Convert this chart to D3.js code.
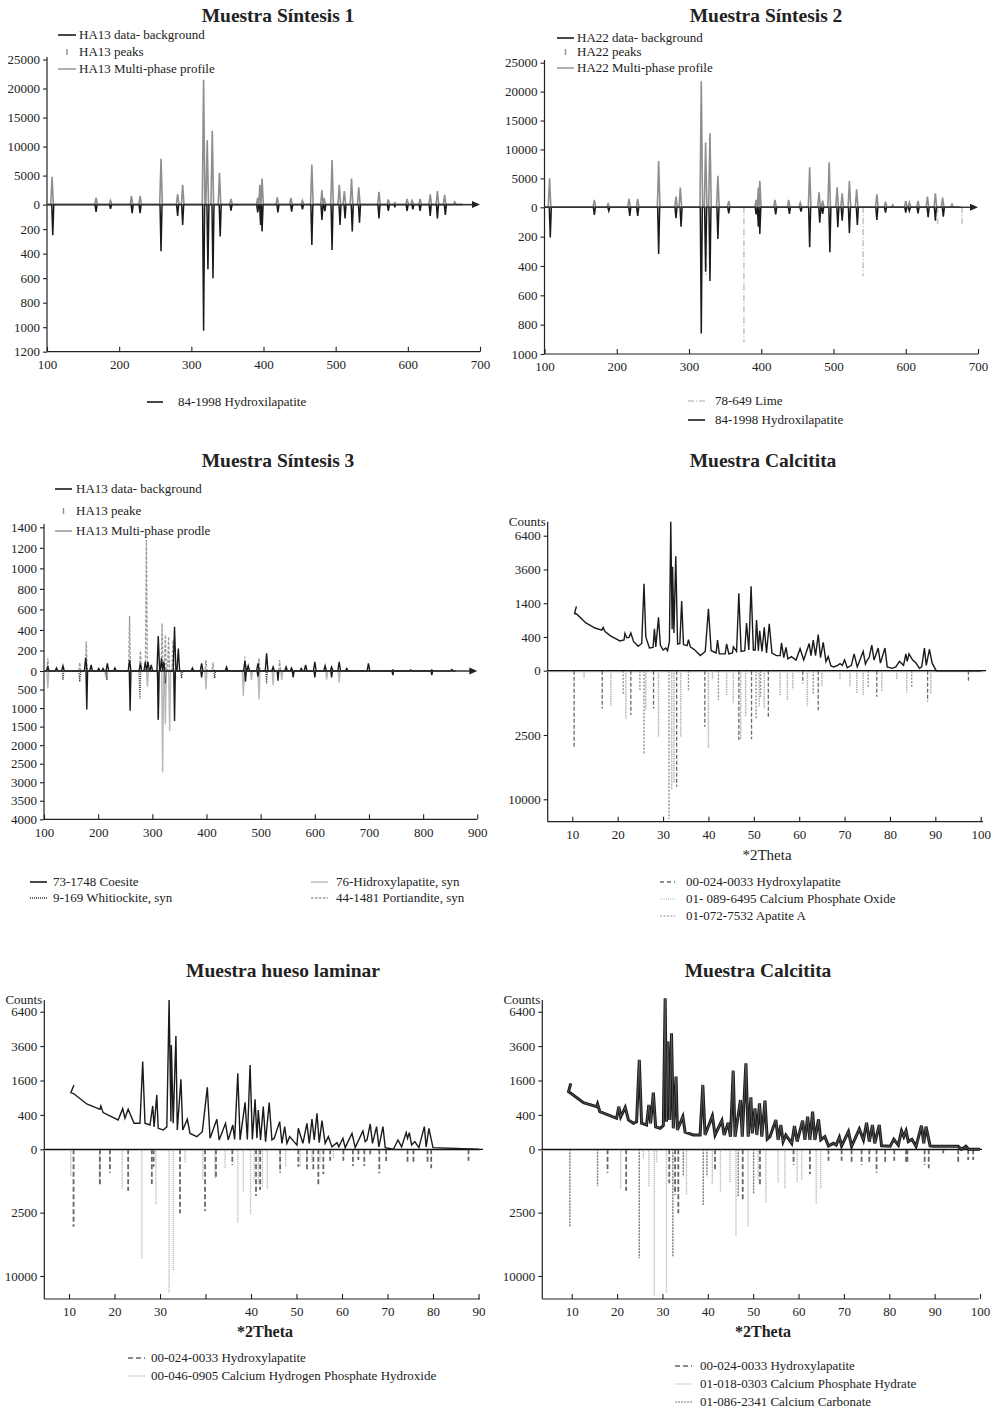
<!DOCTYPE html>
<html>
<head>
<meta charset="utf-8">
<script src="https://cdnjs.cloudflare.com/ajax/libs/d3/7.8.5/d3.min.js"></script>
<style>
body{margin:0;background:#fff}
svg{display:block;font-family:"Liberation Serif","Times New Roman",serif}
</style>
</head>
<body>
<div id="chart"></div>
<script>
//////////////////////////////////////////////////////
// DATA  (position, intensity)
//////////////////////////////////////////////////////

// Muestra Síntesis 1
const s1Profile = [[107,4800],[168,1200],[188,700],[217,1500],[229,1500],[258,7900],[281,1800],[288,3400],[317,21500],[322,11100],[329,12700],[339,5500],[355,970],[392,1200],[395,3400],[398,4500],[419,1260],[438,1150],[454,690],[467,6900],[481,2500],[484,1100],[495,7700],[505,3400],[512,2350],[522,4500],[532,3000],[560,2200],[573,900],[582,340],[599,970],[606,690],[617,970],[631,1780],[641,2350],[651,1660],[665,460]];
const s1Hydrox = [[108,250],[168,60],[188,35],[218,70],[229,70],[258,380],[281,92],[288,166],[317,1030],[323,528],[330,601],[340,261],[355,49],[392,63],[396,166],[398,220],[420,63],[439,57],[454,38],[467,329],[481,125],[485,54],[495,370],[506,166],[513,112],[523,220],[533,147],[560,112],[573,52],[582,16],[599,52],[607,38],[617,52],[631,92],[641,112],[652,84]];
const s1UpTicks = [0,5000,10000,15000,20000,25000];
const s1DownTicks = [200,400,600,800,1000,1200];

// Muestra Síntesis 2
const s2Profile = [[107,5000],[169,1270],[188,580],[217,1440],[229,1440],[258,8000],[282,1840],[288,3400],[317,21800],[323,11200],[329,12800],[340,5470],[355,1100],[393,1270],[396,3400],[398,4600],[419,1270],[438,1270],[454,800],[467,6900],[480,2600],[485,1150],[494,7780],[505,3450],[512,2420],[522,4550],[532,3100],[560,2250],[572,980],[582,400],[600,1100],[605,860],[617,1100],[630,1840],[641,2420],[651,1670],[664,520]];
const s2Hydrox = [[108,205],[169,52],[189,25],[218,59],[229,59],[258,318],[282,75],[289,132],[317,860],[323,440],[329,502],[340,216],[355,41],[393,48],[396,132],[398,182],[420,48],[439,45],[455,30],[467,273],[481,105],[485,45],[495,307],[506,136],[512,91],[522,177],[533,120],[560,86],[572,36],[600,36],[605,25],[617,41],[631,68],[641,91],[652,64]];
const s2Lime = [[324,460],[376,920],[541,470],[644,130],[678,130]];
const s2UpTicks = [0,5000,10000,15000,20000,25000];
const s2DownTicks = [200,400,600,800,1000];

// Muestra Síntesis 3
const s3Profile = [[107,40],[123,30],[135,50],[177,130],[187,60],[201,25],[209,25],[217,75],[231,30],[258,107],[278,75],[287,90],[292,90],[298,60],[311,340],[317,123],[321,90],[341,430],[348,220],[374,30],[391,75],[437,40],[471,97],[477,50],[495,75],[511,172],[523,40],[547,40],[557,30],[575,25],[583,60],[600,90],[619,50],[631,40],[645,90],[659,25],[699,75],[744,10],[777,10],[816,10],[853,15]];
const s3Peaks = [[107,123],[166,81],[178,286],[258,536],[278,195],[289,1276],[318,464],[324,351],[330,335],[338,302],[399,107],[412,81],[471,140],[497,123],[535,107]];
const s3Coesite = [[179,1036],[259,1072],[311,1306],[341,1351],[391,170],[472,288],[495,153],[532,261],[560,171],[600,171],[631,171],[744,108],[816,108]];
const s3Hydrox = [[107,468],[214,153],[291,423],[319,2738],[324,1441],[332,1622],[399,495],[468,675],[483,243],[497,765],[523,378],[539,243],[560,108],[622,225],[645,315]];
const s3Whitlockite = [[135,243],[166,288],[216,243],[277,739],[311,1324],[324,333],[354,198],[415,198],[511,333]];
const s3UpTicks = [0,200,400,600,800,1000,1200,1400];
const s3DownTicks = [500,1000,1500,2000,2500,3000,3500,4000];

// Muestra Calcitita (arriba)
const c4Profile = [[10.9,1450],[10.5,1150],[11,1120],[13,800],[15,640],[16.5,580],[16.8,660],[17.2,540],[18.5,420],[20.5,310],[21.4,330],[21.6,490],[22,380],[22.5,390],[22.9,500],[23.5,300],[24.5,210],[25.3,260],[25.8,2650],[26.2,400],[27,180],[27.8,190],[28.1,620],[28.4,200],[29,1000],[29.4,230],[30,150],[30.6,180],[31,140],[31.4,300],[31.7,7800],[32,600],[32.1,3800],[32.4,500],[32.8,4600],[33.2,250],[33.7,260],[34.1,1700],[34.5,240],[35.3,220],[35.6,340],[36,200],[37,150],[38.2,80],[39.3,130],[40,1350],[40.6,140],[41.7,110],[42,330],[42.4,100],[43.7,100],[44,250],[44.5,100],[45.3,110],[45.5,200],[46.2,130],[46.7,2100],[47.2,130],[48,140],[48.4,800],[48.9,150],[49.4,2500],[49.9,150],[50.3,150],[50.6,900],[51,140],[51.3,560],[51.8,130],[52.3,660],[52.8,110],[53.4,770],[54,110],[55,80],[55.8,80],[56.1,270],[56.6,60],[57.1,190],[57.5,50],[58.3,70],[59.3,40],[60.2,170],[61,40],[62.2,260],[62.6,80],[63.1,330],[63.6,80],[64.2,460],[64.7,60],[65.3,280],[65.9,30],[66.4,70],[67,8],[67.6,5],[68.5,10],[69,18],[69.5,10],[70,40],[70.6,3],[71.5,10],[72.1,100],[72.8,5],[74.1,130],[74.6,15],[75,40],[75.4,60],[76,230],[76.5,40],[77.4,180],[77.9,20],[78.9,180],[79.4,5],[80.5,2],[81.3,5],[82.1,30],[83,10],[83.5,100],[83.8,30],[84.2,100],[85,40],[85.7,22],[86.5,2],[87,5],[87.6,180],[88,10],[88.7,160],[89.3,20],[90.2,0],[100,0]];
const c4Hydrox = [[10.4,3550],[16.6,860],[22.9,1190],[27.9,860],[33,8100],[39.2,1900],[46.7,2900],[49.5,2850],[53.2,1280],[60.8,100],[64.2,940],[77.1,410],[88.3,580],[97.3,75]];
const c4CaPOxide = [[12.6,35],[18.5,750],[21.8,1430],[26.2,940],[29,2630],[31.9,8600],[32.4,7660],[33.9,2630],[40,3640],[40.9,55],[44,360],[45.5,650],[47.1,2820],[48.2,1280],[51.2,780],[52.3,860],[55.8,360],[57.4,520],[58.6,210],[61.8,750],[65,155],[69,45],[71.2,155],[72.7,310],[74.1,360],[78.2,266],[81.5,45],[83.7,290],[89,330]];
const c4ApatiteA = [[21.2,360],[24.9,226],[25.8,4300],[31.3,13300],[35.6,266],[42.2,520],[50.5,1430],[51.5,410],[63.1,360],[75.2,155],[84.8,188]];
const c4UpTicks = [0,400,1600,3600,6400];
const c4UpLabels = ["0","400","1400","3600","6400"];
const c4DownTicks = [2500,10000];
const c4XTicks = [10,20,30,40,50,60,70,80,90,100];
const c4XLabels = ["10","20","30","40","50","60","70","80","90","100"];

// Muestra hueso laminar
const c5Profile = [[11.1,1400],[10.4,1085],[11,1050],[13.9,695],[16.8,540],[17,635],[17.5,455],[20.8,291],[21.8,559],[22.3,325],[23,541],[24.3,229],[25.6,229],[26.2,2600],[26.7,229],[27.8,200],[28.4,635],[28.7,170],[29.3,1000],[29.6,149],[30.7,126],[31.5,170],[32,7540],[32.4,260],[32.5,3680],[32.9,230],[33.5,4340],[33.8,126],[34.6,1660],[35,126],[36,305],[36.6,85],[38.1,54],[39.3,105],[40.4,1300],[41,41],[42.5,305],[43,30],[44.4,228],[45,30],[46,200],[46.4,33],[47.1,1950],[47.6,30],[48.7,746],[49.2,33],[49.8,2400],[50.3,33],[50.9,845],[51.3,41],[51.6,523],[52.1,30],[52.7,615],[53.2,20],[54,736],[54.6,30],[55.1,41],[56.3,259],[56.8,12],[57.4,174],[57.9,12],[58.5,54],[60.1,6],[60.4,149],[61.4,12],[62.3,228],[62.8,12],[63.4,311],[63.9,30],[64.5,438],[65,15],[65.6,278],[66.3,12],[67,54],[67.8,2],[68.9,15],[69.3,2],[70.2,41],[70.7,1],[72.2,86],[72.9,1],[74.6,114],[75.1,20],[75.5,30],[76.2,217],[76.7,12],[77.6,174],[78.1,2],[79,174],[79.5,1],[81.3,0],[82.3,29],[83.1,2],[84.1,94],[84.4,40],[84.8,94],[85.3,6],[86,20],[86.9,1],[88.1,174],[88.5,2],[89.1,149],[90,1],[100,0]];
const c5Hydrox = [[11,3730],[16.8,870],[19,340],[23,1065],[28.2,750],[28.6,187],[34.4,2550],[39.9,2370],[42.3,524],[45.9,153],[51.1,1360],[52,1030],[56.4,340],[60.4,187],[62.3,284],[63.7,266],[64.8,840],[65.9,380],[67.4,80],[70.3,80],[72.4,173],[73.6,71],[74.9,173],[76.2,34],[78.2,360],[79.7,85],[84.4,111],[85.7,111],[88.8,134],[89.6,225],[97.8,80]];
const c5CaHPO = [[10.4,465],[16.7,720],[21.7,1000],[26,7400],[29.1,1930],[32,12800],[32.9,9170],[35.5,111],[39.4,586],[42.1,524],[44.3,225],[47.1,3350],[48.3,1120],[49.9,2630],[50.7,651],[51.6,793],[52.5,868],[53.6,997],[56.4,310],[57.6,187],[60.8,202],[62.3,122],[63.4,122],[65.2,111],[68.1,62]];
const c5UpTicks = [0,400,1600,3600,6400];
const c5UpLabels = ["0","400","1600","3600","6400"];
const c5DownTicks = [2500,10000];
const c5XTicks = [10,20,30,40,50,60,70,80,90,100];
const c5XLabels = ["10","20","30","","40","50","60","70","80","90"];

// Muestra Calcitita (abajo)
const c6Profile = [[9.8,1472],[9.3,1124],[9.8,1060],[12.6,736],[15.5,615],[15.7,695],[16.2,480],[19.9,325],[20.4,615],[20.8,355],[21.8,596],[22.5,292],[23.6,229],[24.3,255],[24.9,2700],[25.4,229],[26.5,200],[27,664],[27.4,229],[28,1085],[28.5,170],[29.5,149],[30.2,190],[30.6,7700],[30.9,255],[31.2,3920],[31.6,290],[32,4550],[32.4,149],[33,1785],[33.3,126],[34.5,360],[35,100],[36.8,69],[38.3,69],[38.9,1400],[39.4,69],[41,376],[41.6,69],[43.1,278],[43.6,69],[44.5,240],[45,54],[45.6,2090],[46,54],[47.2,822],[47.6,54],[48.4,2500],[48.9,54],[49.5,914],[49.8,85],[50.4,568],[50.8,69],[51.4,716],[51.9,54],[52.6,800],[53.1,35],[53.7,54],[55,291],[55.5,30],[56.1,200],[56.6,20],[57.2,69],[58.5,12],[59.1,184],[59.7,20],[60.9,278],[61.4,30],[62,360],[62.5,30],[63.1,480],[63.6,30],[64.4,304],[64.9,30],[65.8,54],[66.6,4],[67.7,12],[68.3,6],[69,49],[69.5,4],[71,105],[71.7,3],[73.4,140],[74.3,30],[75,240],[75.6,20],[76.3,200],[76.8,12],[77.8,200],[78.3,4],[80.2,3],[81,34],[82,6],[82.7,114],[83.2,54],[83.7,114],[84.2,20],[85,34],[85.9,3],[87.1,190],[87.6,12],[88.1,174],[89,4],[89.7,3],[95.2,3],[95.9,0],[96.9,3],[97.5,0],[100,0]];
const c6Hydrox = [[17.9,340],[22,1065],[31.5,720],[32.8,1300],[33.5,2550],[41.6,284],[47.7,1640],[51.5,790],[58.9,153],[62.5,380],[66.6,80],[69.5,80],[71.7,134],[73.9,153],[75.6,122],[77.2,340],[79.1,95],[81.1,80],[83.7,95],[84,122],[87.8,153],[88.7,225],[91.9,10],[95.2,122],[97.4,71],[98.5,71]];
const c6CaPHydrate = [[20.8,1000],[25.8,62],[27,900],[28.2,13400],[28.7,122],[30.9,12800],[35.3,1300],[41,790],[42.8,1120],[44.9,720],[46.2,4680],[48.9,3730],[51.1,590],[52.8,1820],[55.5,720],[57,1000],[59.7,720],[60.7,590],[63.9,1860],[64.9,950]];
const c6CaCO3 = [[9.6,3730],[15.7,840],[24.9,7400],[32.3,7150],[34.6,465],[39,1930],[39.8,465],[46.7,1400],[50.1,1200]];
const c6UpTicks = [0,400,1600,3600,6400];
const c6UpLabels = ["0","400","1600","3600","6400"];
const c6DownTicks = [2500,10000];
const c6XTicks = [10,20,30,40,50,60,70,80,90,100];
const c6XLabels = ["10","20","30","40","50","60","70","80","90","100"];

//////////////////////////////////////////////////////
// SETUP
//////////////////////////////////////////////////////

const BLACK = "#1a1a1a", GRAY = "#8e8e8e", LIGHT = "#c6c6c6", MID = "#9a9a9a";

const svg = d3.select("#chart")
    .append("svg")
    .attr("width", 1000)
    .attr("height", 1409);

function title(x, y, t){
    svg.append("text")
        .attr("x", x).attr("y", y)
        .attr("text-anchor","middle")
        .style("font-size","19.5px")
        .style("font-weight","bold")
        .style("fill","#222")
        .text(t);
}

function legendItem(x1, x2, y, tx, label, st){
    if (st.tick){
        svg.append("line")
            .attr("x1",(x1+x2)/2).attr("x2",(x1+x2)/2)
            .attr("y1",y-3).attr("y2",y+3)
            .attr("stroke",st.color).attr("stroke-width",1.4);
    } else {
        svg.append("line")
            .attr("x1",x1).attr("x2",x2).attr("y1",y).attr("y2",y)
            .attr("stroke",st.color)
            .attr("stroke-width",st.width || 1.4)
            .attr("stroke-dasharray",st.dash || null);
    }
    svg.append("text")
        .attr("x",tx).attr("y",y+4)
        .style("font-size","13px")
        .style("fill","#222")
        .text(label);
}

// narrow triangular peaks joined through the baseline
function spikes(peaks, w, x0, x1){
    const s = peaks.slice().sort((a,b)=>a[0]-b[0]);
    const pts = [];
    if (x0 !== undefined) pts.push([x0,0]);
    s.forEach((p,i)=>{
        const lo = i>0 ? Math.max(p[0]-w,(s[i-1][0]+p[0])/2) : p[0]-w;
        const hi = i<s.length-1 ? Math.min(p[0]+w,(p[0]+s[i+1][0])/2) : p[0]+w;
        pts.push([lo,0],[p[0],p[1]],[hi,0]);
    });
    if (x1 !== undefined) pts.push([x1,0]);
    return pts;
}

function styleAxis(g){
    g.attr("font-family",null).attr("font-size",null);
    g.selectAll("text").style("font-size","13px").style("fill","#222");
    g.selectAll("line").attr("stroke","#222").attr("stroke-width",1.1);
    g.select(".domain").remove();
}

function drawPath(pts, xs, ys, color, width, dash){
    svg.append("path")
        .attr("d", d3.line().x(d=>xs(d[0])).y(d=>ys(d[1]))(pts))
        .attr("fill","none")
        .attr("stroke",color)
        .attr("stroke-width",width)
        .attr("stroke-dasharray",dash || null)
        .attr("stroke-linejoin","miter");
}

function drawSticks(data, xs, ys, color, width, dash){
    svg.append("g").selectAll("line")
        .data(data)
        .enter()
        .append("line")
        .attr("x1",d=>xs(d[0])).attr("x2",d=>xs(d[0]))
        .attr("y1",ys(0)).attr("y2",d=>ys(d[1]))
        .attr("stroke",color)
        .attr("stroke-width",width)
        .attr("stroke-dasharray",dash || null);
}

//////////////////////////////////////////////////////
// PANELS WITH LINEAR SPLIT SCALE (Síntesis)
//////////////////////////////////////////////////////

function splitPanel(o){
    const x = d3.scaleLinear().domain(o.xDomain).range([o.left, o.right]);
    const yUp = d3.scaleLinear().domain([0, o.upMax]).range([o.zero, o.top]);
    const yDn = d3.scaleLinear().domain([0, o.dnMax]).range([o.zero, o.bottom]);

    svg.append("g").attr("transform",`translate(${o.left},0)`)
        .call(d3.axisLeft(yUp).tickValues(o.upTicks).tickSize(4).tickPadding(3).tickFormat(d3.format("d")))
        .call(styleAxis);
    svg.append("g").attr("transform",`translate(${o.left},0)`)
        .call(d3.axisLeft(yDn).tickValues(o.dnTicks).tickSize(4).tickPadding(3).tickFormat(d3.format("d")))
        .call(styleAxis);
    svg.append("g").attr("transform",`translate(0,${o.bottom})`)
        .call(d3.axisBottom(x).tickValues(o.xTicks).tickSizeInner(-5).tickSizeOuter(0).tickPadding(8))
        .call(styleAxis);

    svg.append("line").attr("x1",o.left).attr("x2",o.left).attr("y1",o.axisTop).attr("y2",o.bottom)
        .attr("stroke","#222").attr("stroke-width",1.2);
    svg.append("line").attr("x1",o.left).attr("x2",o.right).attr("y1",o.bottom).attr("y2",o.bottom)
        .attr("stroke","#222").attr("stroke-width",1.2);

    return {x, yUp, yDn};
}

function arrow(xEnd, y){
    svg.append("path")
        .attr("d",`M${xEnd},${y} L${xEnd-8},${y-3.5} L${xEnd-8},${y+3.5} Z`)
        .attr("fill","#222");
}

// --- Síntesis 1
title(278, 22, "Muestra Síntesis 1");
{
    const p = splitPanel({xDomain:[100,700], left:47, right:480, zero:204.6, top:59.5, bottom:351.7, axisTop:57,
        upMax:25000, dnMax:1200, upTicks:s1UpTicks, dnTicks:s1DownTicks, xTicks:[100,200,300,400,500,600,700]});
    drawPath(spikes(s1Profile,1.8,100,690), p.x, p.yUp, GRAY, 1.6);
    drawPath(spikes(s1Hydrox,1.4,100,676), p.x, p.yDn, BLACK, 1.5);
    svg.append("line").attr("x1",p.x(100)).attr("x2",p.x(700)-4).attr("y1",p.yUp(0)).attr("y2",p.yUp(0))
        .attr("stroke","#333").attr("stroke-width",1.3);
    arrow(p.x(700), p.yUp(0));
}
legendItem(58, 76, 35, 79, "HA13 data- background", {color:BLACK, width:1.6});
legendItem(58, 76, 52, 79, "HA13 peaks", {color:GRAY, tick:true});
legendItem(58, 76, 69, 79, "HA13 Multi-phase profile", {color:GRAY, width:1.4});
legendItem(147, 163, 402, 178, "84-1998 Hydroxilapatite", {color:BLACK, width:1.6});

// --- Síntesis 2
title(766, 22, "Muestra Síntesis 2");
{
    const p = splitPanel({xDomain:[100,700], left:544.5, right:978, zero:207.3, top:62.7, bottom:354, axisTop:60,
        upMax:25000, dnMax:1000, upTicks:s2UpTicks, dnTicks:s2DownTicks, xTicks:[100,200,300,400,500,600,700]});
    drawSticks(s2Lime, p.x, p.yDn, LIGHT, 1.6, "6,2,1,2");
    drawPath(spikes(s2Profile,1.8,100,690), p.x, p.yUp, GRAY, 1.6);
    drawPath(spikes(s2Hydrox,1.4,100,676), p.x, p.yDn, BLACK, 1.5);
    svg.append("line").attr("x1",p.x(100)).attr("x2",p.x(700)-4).attr("y1",p.yUp(0)).attr("y2",p.yUp(0))
        .attr("stroke","#333").attr("stroke-width",1.3);
    arrow(p.x(700), p.yUp(0));
}
legendItem(557, 574, 38, 577, "HA22 data- background", {color:BLACK, width:1.6});
legendItem(557, 574, 52, 577, "HA22 peaks", {color:GRAY, tick:true});
legendItem(557, 574, 68, 577, "HA22 Multi-phase profile", {color:GRAY, width:1.4});
legendItem(688, 705, 401, 715, "78-649 Lime", {color:LIGHT, width:1.4, dash:"6,2,1,2"});
legendItem(688, 705, 420, 715, "84-1998 Hydroxilapatite", {color:BLACK, width:1.6});

// --- Síntesis 3
title(278, 467, "Muestra Síntesis 3");
{
    const p = splitPanel({xDomain:[100,900], left:44, right:477.3, zero:671, top:527.3, bottom:819.3, axisTop:524,
        upMax:1400, dnMax:4000, upTicks:s3UpTicks, dnTicks:s3DownTicks, xTicks:[100,200,300,400,500,600,700,800,900]});
    drawPath(spikes(s3Hydrox,1.8,100,665), p.x, p.yDn, "#b8b8b8", 1.4);
    drawPath(spikes(s3Peaks,1.8,100,660), p.x, p.yUp, MID, 1.3, "3,1.5");
    drawPath(spikes(s3Whitlockite,1.6), p.x, p.yDn, "#333", 1.3, "1,1.2");
    drawPath(spikes(s3Coesite,1.5), p.x, p.yDn, BLACK, 1.4);
    drawPath(spikes(s3Profile,2.5,100,860), p.x, p.yUp, BLACK, 1.4);
    svg.append("line").attr("x1",p.x(100)).attr("x2",p.x(900)-4).attr("y1",p.yUp(0)).attr("y2",p.yUp(0))
        .attr("stroke","#333").attr("stroke-width",1.3);
    arrow(p.x(900), p.yUp(0));
}
legendItem(55, 72, 489, 76, "HA13 data- background", {color:BLACK, width:1.6});
legendItem(55, 72, 511, 76, "HA13 peake", {color:GRAY, tick:true});
legendItem(55, 72, 531, 76, "HA13 Multi-phase prodle", {color:GRAY, width:1.4});
legendItem(30, 47, 882, 53, "73-1748 Coesite", {color:BLACK, width:1.6});
legendItem(30, 47, 898, 53, "9-169 Whitiockite, syn", {color:"#333", width:1.3, dash:"1,1"});
legendItem(311, 328, 882, 336, "76-Hidroxylapatite, syn", {color:"#b8b8b8", width:1.4});
legendItem(311, 328, 898, 336, "44-1481 Portiandite, syn", {color:MID, width:1.3, dash:"2.5,1.5"});

//////////////////////////////////////////////////////
// PANELS WITH SQRT SCALE (Counts vs *2Theta)
//////////////////////////////////////////////////////

function countsPanel(o){
    const x = d3.scaleLinear().domain([10,100]).range([o.x10, o.x100]);
    const yUp = d3.scaleSqrt().domain([0,6400]).range([o.zero, o.y6400]);
    const yDn = d3.scaleSqrt().domain([0,10000]).range([o.zero, o.y10000]);

    svg.append("g").attr("transform",`translate(${o.left},0)`)
        .call(d3.axisLeft(yUp).tickValues(o.upTicks).tickSize(4).tickPadding(3)
            .tickFormat((d,i)=>o.upLabels[i]))
        .call(styleAxis);
    svg.append("g").attr("transform",`translate(${o.left},0)`)
        .call(d3.axisLeft(yDn).tickValues(o.dnTicks).tickSize(4).tickPadding(3).tickFormat(d3.format("d")))
        .call(styleAxis);
    svg.append("g").attr("transform",`translate(0,${o.bottom})`)
        .call(d3.axisBottom(x).tickValues(o.xTicks).tickSizeInner(-5).tickSizeOuter(0).tickPadding(8)
            .tickFormat((d,i)=>o.xLabels[i]))
        .call(styleAxis);

    svg.append("line").attr("x1",o.left).attr("x2",o.left).attr("y1",o.axisTop).attr("y2",o.bottom)
        .attr("stroke","#222").attr("stroke-width",1.2);
    svg.append("line").attr("x1",o.left).attr("x2",o.right).attr("y1",o.bottom).attr("y2",o.bottom)
        .attr("stroke","#222").attr("stroke-width",1.2);

    svg.append("text").attr("x",o.left-2).attr("y",o.axisTop+4)
        .attr("text-anchor","end").style("font-size","13px").style("fill","#222").text("Counts");
    svg.append("text").attr("x",o.thetaX).attr("y",o.bottom+38)
        .attr("text-anchor","middle")
        .style("font-size", o.boldTheta ? "16px" : "15px")
        .style("font-weight", o.boldTheta ? "bold" : "normal")
        .style("fill","#222").text("*2Theta");

    // faint reference baseline and zero line
    svg.append("line").attr("x1",o.left).attr("x2",o.right).attr("y1",o.zero+1).attr("y2",o.zero+1)
        .attr("stroke","#bbb").attr("stroke-width",1.2);
    return {x, yUp, yDn, zeroLine: ()=>svg.append("line").attr("x1",o.left).attr("x2",o.right+3)
        .attr("y1",o.zero).attr("y2",o.zero).attr("stroke","#111").attr("stroke-width",1.3)};
}

// --- Calcitita (arriba)
title(763, 467, "Muestra Calcitita");
{
    const p = countsPanel({x10:572.3, x100:980.7, left:547.7, right:983, zero:670.7, y6400:535.7, y10000:799.3,
        bottom:821.7, axisTop:521.7, upTicks:c4UpTicks, upLabels:c4UpLabels, dnTicks:c4DownTicks,
        xTicks:c4XTicks, xLabels:c4XLabels, thetaX:767, boldTheta:false});
    drawSticks(c4CaPOxide, p.x, p.yDn, "#b4b4b4", 1.5, "1.5,0.8");
    drawSticks(c4ApatiteA, p.x, p.yDn, "#8a8a8a", 1.3, "2,1.5");
    drawSticks(c4Hydrox, p.x, p.yDn, "#6a6a6a", 1.3, "4,2");
    p.zeroLine();
    drawPath(c4Profile, p.x, p.yUp, BLACK, 1.4);
}
legendItem(660, 675, 882, 686, "00-024-0033 Hydroxylapatite", {color:"#6a6a6a", width:1.3, dash:"4,3"});
legendItem(660, 675, 899, 686, "01- 089-6495 Calcium Phosphate Oxide", {color:"#b4b4b4", width:1.2, dash:"1,1"});
legendItem(660, 675, 916, 686, "01-072-7532 Apatite A", {color:"#8a8a8a", width:1.2, dash:"2,1.5"});

// --- hueso laminar
title(283, 977, "Muestra hueso laminar");
{
    const p = countsPanel({x10:69, x100:478.5, left:44.3, right:480, zero:1149.3, y6400:1011.7, y10000:1276,
        bottom:1299, axisTop:1000, upTicks:c5UpTicks, upLabels:c5UpLabels, dnTicks:c5DownTicks,
        xTicks:c5XTicks, xLabels:c5XLabels, thetaX:265, boldTheta:true});
    drawSticks(c5CaHPO, p.x, p.yDn, "#a8a8a8", 1.3, "1,1");
    drawSticks(c5Hydrox, p.x, p.yDn, "#666", 1.8, "5,2.5");
    p.zeroLine();
    drawPath(c5Profile, p.x, p.yUp, BLACK, 1.4);
}
legendItem(128, 145, 1358, 151, "00-024-0033 Hydroxylapatite", {color:"#666", width:1.4, dash:"5,3"});
legendItem(128, 145, 1376, 151, "00-046-0905 Calcium Hydrogen Phosphate Hydroxide", {color:"#a8a8a8", width:1.2, dash:"1,1"});

// --- Calcitita (abajo)
title(758, 977, "Muestra Calcitita");
{
    const p = countsPanel({x10:571.7, x100:980, left:542.3, right:979, zero:1149.3, y6400:1011.7, y10000:1276,
        bottom:1299, axisTop:1000, upTicks:c6UpTicks, upLabels:c6UpLabels, dnTicks:c6DownTicks,
        xTicks:c6XTicks, xLabels:c6XLabels, thetaX:763, boldTheta:true});
    drawSticks(c6CaPHydrate, p.x, p.yDn, "#a8a8a8", 1.4, "1,1");
    drawSticks(c6CaCO3, p.x, p.yDn, "#7a7a7a", 1.4, "2,1");
    drawSticks(c6Hydrox, p.x, p.yDn, "#666", 1.8, "5,2.5");
    p.zeroLine();
    drawPath(c6Profile, p.x, p.yUp, BLACK, 3);
    drawPath(c6Profile, p.x, p.yUp, "#777", 0.6);
}
legendItem(675, 692, 1366, 700, "00-024-0033 Hydroxylapatite", {color:"#666", width:1.4, dash:"5,3"});
legendItem(675, 692, 1384, 700, "01-018-0303 Calcium Phosphate Hydrate", {color:"#a8a8a8", width:1.2, dash:"1,1"});
legendItem(675, 692, 1402, 700, "01-086-2341 Calcium Carbonate", {color:"#7a7a7a", width:1.2, dash:"2,1"});
</script>
</body>
</html>
